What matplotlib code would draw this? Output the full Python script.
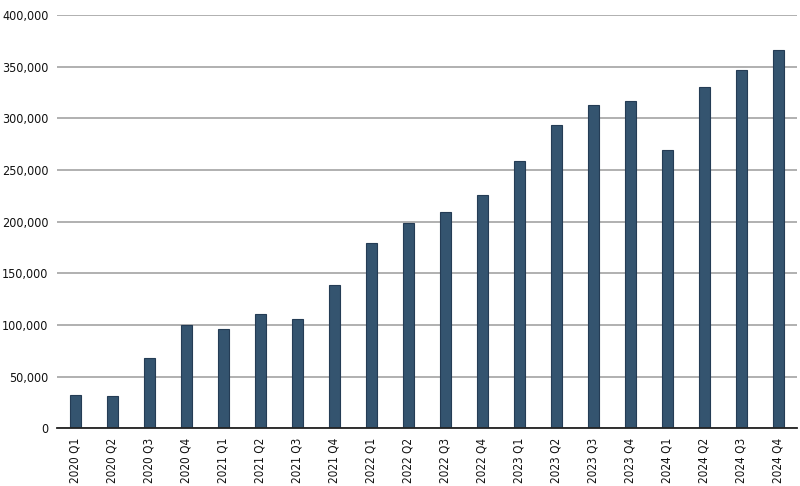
import matplotlib
matplotlib.use("Agg")
import matplotlib.pyplot as plt
from matplotlib.ticker import FuncFormatter
from matplotlib import font_manager

categories = ["2020 Q1", "2020 Q2", "2020 Q3", "2020 Q4",
              "2021 Q1", "2021 Q2", "2021 Q3", "2021 Q4",
              "2022 Q1", "2022 Q2", "2022 Q3", "2022 Q4",
              "2023 Q1", "2023 Q2", "2023 Q3", "2023 Q4",
              "2024 Q1", "2024 Q2", "2024 Q3", "2024 Q4"]
values = [32000, 31000, 68000, 100000,
          96000, 111000, 106000, 139000,
          179000, 199000, 209000, 226000,
          259000, 294000, 313000, 317000,
          269000, 330000, 347000, 366000]
yticks = [0, 50000, 100000, 150000, 200000, 250000, 300000, 350000, 400000]

fonts = font_manager.fontManager.ttflist
condensed = [f for f in fonts if "ondensed" in f.fname or "arrow" in f.fname or f.stretch in ("condensed", "semi-condensed", 500)]
fname = None
for f in condensed:
    if "Sans" in f.name and ("Bold" not in f.fname and "Oblique" not in f.fname and "Italic" not in f.fname):
        fname = f.fname
        break
if fname is not None:
    fp_y = font_manager.FontProperties(fname=fname, size=9)
    fp_x = font_manager.FontProperties(fname=fname, size=8.5)
else:
    fp_y = font_manager.FontProperties(family="Liberation Sans", size=8.5)
    fp_x = font_manager.FontProperties(family="Liberation Sans", size=7.5)

fig = plt.figure(figsize=(8, 4.86), dpi=100)
ax = fig.add_axes([0.071, 0.119, 0.925, 0.85])
x = range(len(categories))
ax.bar(x, values, width=0.31, color="#34546f", edgecolor="#243c55", linewidth=0.8, zorder=3)
ax.set_xlim(-0.5, len(categories) - 0.5)
ax.set_ylim(0, 400000)
ax.set_yticks(yticks)
ax.yaxis.set_major_formatter(FuncFormatter(lambda v, p: f"{int(v):,}"))
ax.grid(axis="y", color="#aaaaaa", linewidth=1.3, zorder=0)
ax.set_xticks(list(x))
ax.set_xticklabels(categories, rotation=90)
for lab in ax.get_xticklabels():
    lab.set_fontproperties(fp_x)
    lab.set_color("#111111")
for lab in ax.get_yticklabels():
    lab.set_fontproperties(fp_y)
    lab.set_color("#111111")
ax.tick_params(axis="y", length=0, pad=6)
ax.tick_params(axis="x", length=0, pad=7)
for s in ["top", "right", "left"]:
    ax.spines[s].set_visible(False)
ax.spines["bottom"].set_color("#222222")
ax.spines["bottom"].set_linewidth(1.3)
ax.spines["bottom"].set_zorder(4)
fig.savefig("out.png", dpi=100)
